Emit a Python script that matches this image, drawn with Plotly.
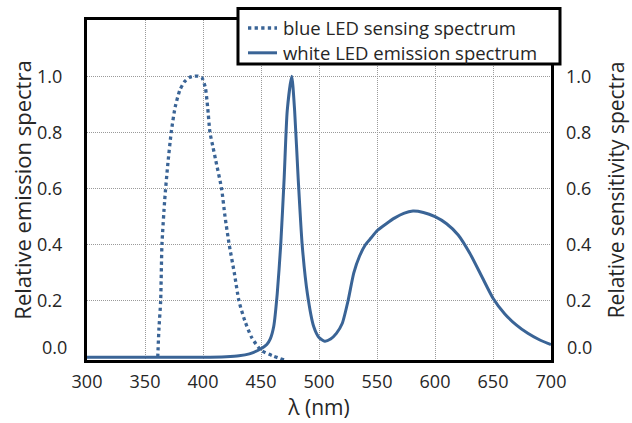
import plotly.graph_objects as go

# Wavelength samples (nm) and relative values for each spectrum
blue_nm = [361, 362, 363.5, 364.6, 367, 369.5, 372.6, 376, 380, 384, 388, 392, 396, 399,
           402, 404, 406, 408.5, 411, 416, 419, 422.6, 427, 431, 436, 442, 450, 460, 470]
blue_sens = [0, 0.1, 0.2, 0.4, 0.56, 0.68, 0.8, 0.89, 0.95, 0.98, 0.995, 1.0, 1.0, 0.995,
             0.96, 0.89, 0.8, 0.75, 0.7, 0.6, 0.5, 0.4, 0.3, 0.2, 0.13, 0.07, 0.025, 0.005, -0.01]

white_nm = [300, 350, 400, 420, 431, 440, 450, 455, 458, 461, 464, 467, 470, 472.6, 476.5,
            479, 482, 485.5, 490, 495.5, 500, 505, 510, 515, 520, 525, 530, 535, 540, 545,
            550, 558, 565, 573, 581, 590, 600, 610, 620, 630, 640, 650, 660, 670, 680, 690, 700]
white_em = [0, 0, 0, 0.002, 0.005, 0.012, 0.03, 0.045, 0.065, 0.11, 0.226, 0.40, 0.64, 0.877, 1.0,
            0.877, 0.64, 0.40, 0.226, 0.108, 0.07, 0.057, 0.065, 0.085, 0.12, 0.2, 0.3, 0.36, 0.4, 0.425,
            0.45, 0.475, 0.495, 0.512, 0.52, 0.515, 0.50, 0.475, 0.435, 0.37, 0.29, 0.21, 0.155,
            0.115, 0.085, 0.062, 0.045]

series_names = ["blue LED sensing spectrum", "white LED emission spectrum"]

x_ticks = [300, 350, 400, 450, 500, 550, 600, 650, 700]
y_ticks = [0.2, 0.4, 0.6, 0.8, 1.0]
y_ticktext = ["0.2", "0.4", "0.6", "0.8", "1.0"]

LINE = "#3A6496"
FONT = "Open Sans"
TXT = "#262626"

fig = go.Figure()
fig.add_trace(go.Scatter(
    x=blue_nm, y=blue_sens, mode="lines", name=series_names[0], showlegend=False,
    line=dict(color=LINE, width=3.3, dash="dot", shape="spline", smoothing=0.6),
))
fig.add_trace(go.Scatter(
    x=white_nm, y=white_em, mode="lines", name=series_names[1], showlegend=False,
    line=dict(color=LINE, width=3, shape="spline", smoothing=0.6),
))
# invisible trace carrying the right-hand axis
fig.add_trace(go.Scatter(x=[300], y=[0], yaxis="y2", mode="none", showlegend=False,
                         hoverinfo="skip"))

grid = dict(showgrid=True, gridcolor="#9a9a9a", gridwidth=1, griddash="1px,1px")

fig.update_layout(
    width=632, height=423,
    margin=dict(l=87, r=81, t=20, b=63, autoexpand=False),
    paper_bgcolor="white", plot_bgcolor="white",
    font=dict(family=FONT, size=18, color=TXT),
    xaxis=dict(
        range=[300, 700], tickvals=x_ticks, ticks="", ticklabelstandoff=3,
        showline=True, linecolor="black", linewidth=3, mirror=True,
        zeroline=False, automargin=False,
        title=dict(text="λ (nm)", font=dict(size=21), standoff=6),
        **grid,
    ),
    yaxis=dict(
        range=[-0.01, 1.2], tickvals=y_ticks, ticktext=y_ticktext, ticks="",
        ticklabelstandoff=18, automargin=False,
        showline=True, linecolor="black", linewidth=3, mirror=True,
        zeroline=False,
        title=dict(text="Relative emission spectra", font=dict(size=22), standoff=0),
        **grid,
    ),
    yaxis2=dict(
        range=[-0.01, 1.2], tickvals=y_ticks, ticktext=y_ticktext, ticks="",
        ticklabelstandoff=14, automargin=False,
        overlaying="y", side="right", showgrid=False, zeroline=False,
        showline=False,
        title=dict(text="Relative sensitivity spectra", font=dict(size=21), standoff=18),
    ),
)

# "0.0" labels sit a little above the bottom frame on both sides
for xp, anchor, shift in [(0, "right", -18), (1, "left", 14)]:
    fig.add_annotation(x=xp, xref="paper", y=0.035, yref="y", text="0.0",
                       showarrow=False, xanchor=anchor, xshift=shift,
                       font=dict(family=FONT, size=18, color=TXT))

# Legend box overlapping the top edge of the plot frame
fig.add_shape(type="rect", xref="paper", yref="paper",
              x0=0.3254, x1=1.0194, y0=0.8706, y1=1.0338,
              fillcolor="white", line=dict(color="black", width=3), layer="above")
for name, dash, width, yp in [(series_names[0], "dot", 3.3, 0.9765),
                              (series_names[1], "solid", 3, 0.9035)]:
    fig.add_shape(type="line", xref="paper", yref="paper",
                  x0=0.347, x1=0.4095, y0=yp, y1=yp,
                  line=dict(color=LINE, width=width, dash=dash), layer="above")
    fig.add_annotation(x=0.418, y=yp, xref="paper", yref="paper", text=name,
                       showarrow=False, xanchor="left", yanchor="middle",
                       font=dict(family=FONT, size=18.5, color=TXT))

fig.write_html("out.html")
